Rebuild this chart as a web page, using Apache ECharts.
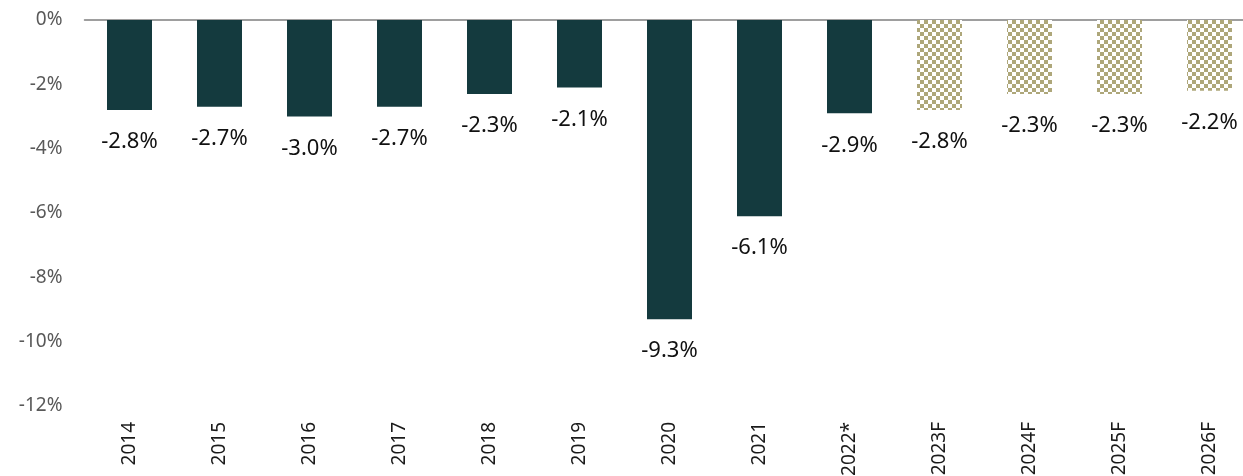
<!DOCTYPE html>
<html>
<head>
<meta charset="utf-8">
<script src="https://cdn.jsdelivr.net/npm/echarts@6/dist/echarts.min.js"></script>
<style>
  html, body { margin: 0; padding: 0; background: #fff; }
  #chart { width: 1243px; height: 476px; }
</style>
</head>
<body>
<div id="chart"></div>
<script>
const years = ['2014', '2015', '2016', '2017', '2018', '2019', '2020', '2021', '2022*', '2023F', '2024F', '2025F', '2026F'];
const deficit = [-2.8, -2.7, -3.0, -2.7, -2.3, -2.1, -9.3, -6.1, -2.9, -2.8, -2.3, -2.3, -2.2];
const isForecast = [false, false, false, false, false, false, false, false, false, true, true, true, true];

// checkered fill for forecast bars
const tile = document.createElement('canvas');
tile.width = 8;
tile.height = 8;
const ctx = tile.getContext('2d');
ctx.fillStyle = '#ffffff';
ctx.fillRect(0, 0, 8, 8);
ctx.fillStyle = '#aea77a';
ctx.fillRect(0, 0, 4, 4);
ctx.fillRect(4, 4, 4, 4);

const chart = echarts.init(document.getElementById('chart'));

chart.setOption({
    animation: false,
    grid: { left: 84.5, width: 1170, top: 20, bottom: 70, outerBoundsMode: 'none' },
    xAxis: [
        {
            type: 'category',
            data: years,
            position: 'bottom',
            axisLine: { show: false, onZero: false },
            axisTick: { show: false },
            axisLabel: {
                rotate: 90,
                margin: 16,
                fontSize: 19,
                color: '#1a1a1a',
                fontFamily: 'Noto Sans'
            }
        },
        {
            type: 'category',
            data: years,
            position: 'top',
            axisLine: { show: true, lineStyle: { color: '#7f7f7f', width: 1.5 } },
            axisTick: { show: false },
            axisLabel: { show: false }
        }
    ],
    yAxis: {
        type: 'value',
        min: -12,
        max: 0,
        interval: 2,
        splitLine: { show: false },
        axisLine: { show: false },
        axisTick: { show: false },
        axisLabel: {
            margin: 22,
            fontSize: 19,
            color: '#595959',
            fontFamily: 'Noto Sans',
            formatter: v => v + '%'
        }
    },
    series: [
        {
            type: 'bar',
            barWidth: '50%',
            data: deficit.map((v, i) => ({
                value: v,
                itemStyle: {
                    color: isForecast[i] ? { image: tile, repeat: 'repeat' } : '#143a3e'
                }
            })),
            label: {
                show: true,
                position: 'bottom',
                distance: 21,
                fontSize: 22,
                color: '#111',
                fontFamily: 'Noto Sans',
                formatter: p => p.value.toFixed(1) + '%'
            }
        }
    ]
});
</script>
</body>
</html>
